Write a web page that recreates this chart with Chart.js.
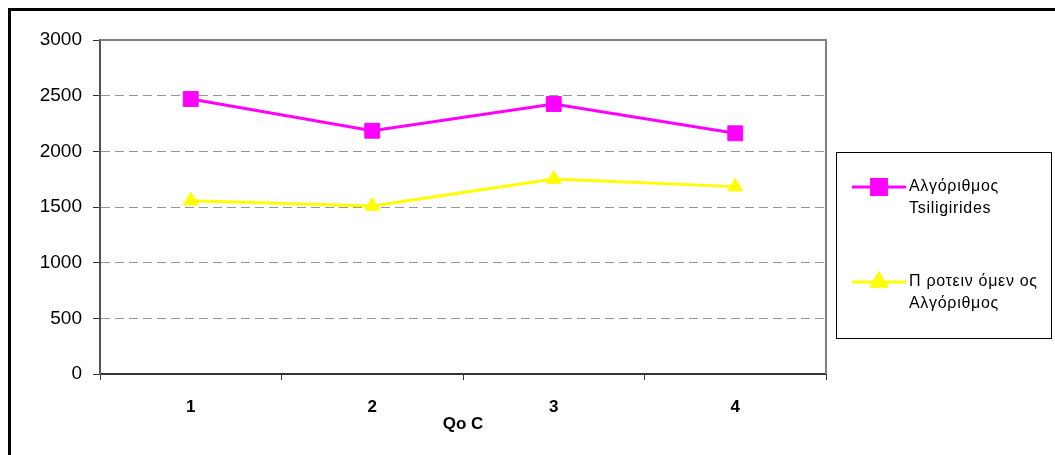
<!DOCTYPE html>
<html>
<head>
<meta charset="utf-8">
<script src="https://cdn.jsdelivr.net/npm/chart.js@4/dist/chart.umd.min.js"></script>
<style>
  html, body { margin: 0; padding: 0; background: #fff; }
  #wrap { position: relative; width: 1055px; height: 455px; overflow: hidden; }
  #frame { position: absolute; left: 8px; top: 8px; width: 1100px; height: 500px;
           border-top: 3px solid #000; border-left: 3px solid #000; pointer-events: none; }
  canvas { position: absolute; left: 0; top: 0; }
</style>
</head>
<body>
<div id="wrap">
  <canvas id="c" width="1055" height="455"></canvas>
  <div id="frame"></div>
</div>
<script>
// QoC categories and the two algorithms' results
const categories = ['1', '2', '3', '4'];
const tsiligirides = [2470, 2185, 2425, 2162];
const proposed = [1557, 1509, 1751, 1683];
const yTicks = [0, 500, 1000, 1500, 2000, 2500, 3000];
const seriesNames = [['Αλγόριθμος', 'Tsiligirides'], ['Π ροτειν όμεν ος', 'Αλγόριθμος']];
const axisTitle = 'Qo C';

const FONT = "'Liberation Sans', Arial, sans-serif";

// Gray plot-area border on top and right
const plotFrame = {
  id: 'plotFrame',
  beforeDatasetsDraw(chart) {
    const { ctx, chartArea: a } = chart;
    ctx.save();
    ctx.strokeStyle = '#808080';
    ctx.lineWidth = 2;
    ctx.beginPath();
    ctx.moveTo(a.left, a.top);
    ctx.lineTo(a.right, a.top);
    ctx.lineTo(a.right, a.bottom);
    ctx.stroke();
    ctx.restore();
  }
};

// Boxed legend on the right, entries drawn with each dataset's own style
const boxLegend = {
  id: 'boxLegend',
  afterDraw(chart) {
    const { ctx } = chart;
    const box = { x: 836.5, y: 152.5, w: 215, h: 186 };
    ctx.save();
    ctx.strokeStyle = '#000';
    ctx.lineWidth = 1;
    ctx.strokeRect(box.x, box.y, box.w, box.h);
    const rows = [187, 282];
    chart.data.datasets.forEach((ds, i) => {
      const y = rows[i];
      ctx.strokeStyle = ds.borderColor;
      ctx.lineWidth = ds.borderWidth;
      ctx.beginPath();
      ctx.moveTo(852, y);
      ctx.lineTo(906, y);
      ctx.stroke();
      Chart.helpers.drawPoint(ctx, {
        pointStyle: ds.pointStyle,
        radius: ds.pointRadius,
        rotation: 0,
        borderWidth: 1
      }, 879, y);
      ctx.fillStyle = ds.pointBackgroundColor;
      ctx.strokeStyle = ds.pointBorderColor;
      ctx.lineWidth = 1;
      ctx.fill();
      ctx.stroke();
      ctx.fillStyle = '#000';
      ctx.font = '16px ' + FONT;
      ctx.letterSpacing = '0.7px';
      ctx.textBaseline = 'middle';
      ctx.textAlign = 'left';
      seriesNames[i].forEach((t, k) => ctx.fillText(t, 909, y + k * 22));
    });
    ctx.restore();
  }
};

new Chart(document.getElementById('c'), {
  type: 'line',
  data: {
    labels: categories,
    datasets: [
      {
        label: seriesNames[0].join(' '),
        data: tsiligirides,
        borderColor: '#FF00FF',
        backgroundColor: '#FF00FF',
        pointBackgroundColor: '#FF00FF',
        pointBorderColor: '#FF00FF',
        borderWidth: 3,
        pointStyle: 'rect',
        pointRadius: 10.5,
        pointBorderWidth: 1,
        tension: 0
      },
      {
        label: seriesNames[1].join(' '),
        data: proposed,
        borderColor: '#FFFF00',
        backgroundColor: '#FFFF00',
        pointBackgroundColor: '#FFFF00',
        pointBorderColor: '#FFFF00',
        borderWidth: 3,
        pointStyle: 'triangle',
        pointRadius: 8.5,
        pointBorderWidth: 1,
        tension: 0
      }
    ]
  },
  options: {
    responsive: false,
    animation: false,
    events: [],
    layout: { padding: { left: 0, top: 40, right: 229, bottom: 0 } },
    plugins: { legend: { display: false }, tooltip: { enabled: false } },
    scales: {
      x: {
        type: 'category',
        offset: true,
        grid: {
          offset: true,
          drawOnChartArea: false,
          tickLength: 6,
          tickColor: '#333',
          tickWidth: 1
        },
        border: { color: '#333', width: 2 },
        ticks: {
          color: '#000',
          padding: 17,
          font: { family: FONT, size: 17, weight: 'bold' }
        },
        title: {
          display: true,
          text: axisTitle,
          color: '#000',
          padding: { top: 0, bottom: 20 },
          font: { family: FONT, size: 17, weight: 'bold' }
        },
        afterFit(s) { s.height = 81; }
      },
      y: {
        min: 0,
        max: 3000,
        afterBuildTicks(s) { s.ticks = yTicks.map(v => ({ value: v })); },
        grid: {
          color: '#969696',
          lineWidth: 1,
          tickLength: 7,
          tickColor: '#333',
          tickBorderDash: [],
          tickWidth: 1
        },
        border: { color: '#555', width: 2, dash: [9, 5] },
        ticks: {
          color: '#000',
          padding: 11,
          font: { family: FONT, size: 19 },
          callback: v => String(v)
        },
        afterFit(s) { s.width = 100; }
      }
    }
  },
  plugins: [plotFrame, boxLegend]
});
</script>
</body>
</html>
